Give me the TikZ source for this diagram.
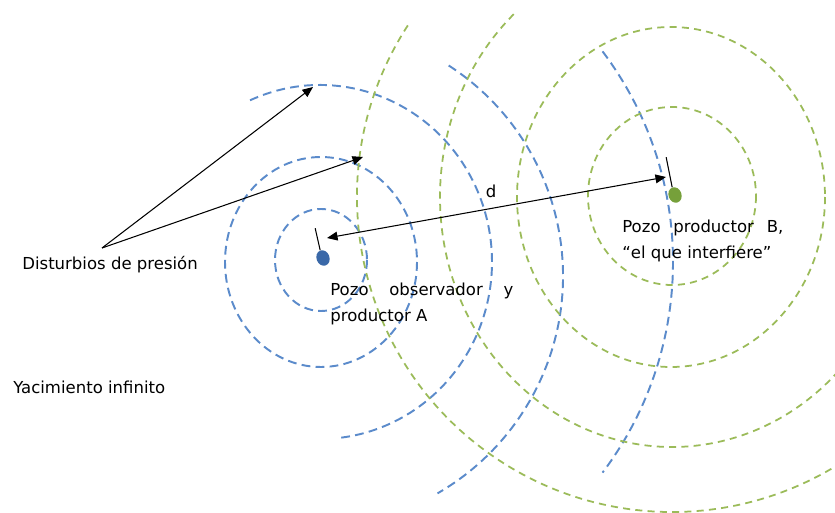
\documentclass[tikz,border=0pt]{standalone}
\usepackage{fontspec}
\setmainfont{DejaVu Sans}
\usepackage{xcolor}
\usepackage{tikz}
\usetikzlibrary{arrows.meta,positioning,shapes.geometric}

\definecolor{ringblue}{HTML}{5B8BCB}
\definecolor{ringgreen}{HTML}{9BBB59}
\definecolor{wellblue}{HTML}{3A68A8}
\definecolor{wellgreen}{HTML}{76A03A}

\tikzset{
    bluering/.style={ringblue, line width=1.1pt, dash pattern=on 5pt off 3pt},
    greenring/.style={ringgreen, line width=1pt, dash pattern=on 4pt off 3pt},
    pointer/.style={line width=0.6pt, -{Triangle[length=6pt,width=5pt]}},
    span/.style={line width=0.6pt, {Triangle[length=6pt,width=5pt]}-{Triangle[length=6pt,width=5pt]}},
    well/.style={ellipse, inner sep=0pt, minimum width=7.4pt, minimum height=9pt, rotate=20},
    lbl/.style={font=\fontsize{9.4}{14.5}\selectfont, inner sep=0pt}
}

\begin{document}
\begin{tikzpicture}[x=0.02cm, y=-0.02cm]
    \clip (0,0) rectangle (835,513);
    \fill [white] (0,0) rectangle (835,513);

    % Rings around A
    \draw [bluering] (321,260) ellipse [x radius=46, y radius=51];
    \draw [bluering] (321,262) ellipse [x radius=96, y radius=105];
    \draw [bluering] (320,262) ++(-114:172 and 177) arc [start angle=-114, end angle=84, x radius=172, y radius=177];
    \draw [bluering] (312,276) ++(-57:251) arc [start angle=-57, end angle=60, radius=251];
    \draw [bluering] (323,262) ++(-37:350) arc [start angle=-37, end angle=37, radius=350];

    % Rings around B
    \draw [greenring] (672,196) ellipse [x radius=84, y radius=89];
    \draw [greenring] (671,197) ellipse [x radius=154, y radius=170];
    \draw [greenring] (672,197) ++(227:232 and 250) arc [start angle=227, end angle=30, x radius=232, y radius=250];
    \draw [greenring] (672,197) ++(213:315) arc [start angle=213, end angle=40, radius=315];

    % Wells
    \node [well, fill=wellblue] (wellA) at (323,258) {};
    \node [well, fill=wellgreen] (wellB) at (675,195) {};
    \draw [line width=0.6pt] (wellA.north) -- ++(-5,-22);
    \draw [line width=0.6pt] (wellB.north) -- ++(-6,-30);

    % Distance
    \coordinate (dA) at (327,238);
    \coordinate (dB) at (666,177);
    \draw [span] (dA) -- (dB);
    \node [lbl] (dlab) at (491,191) {d};

    % Disturbances
    \node [lbl, anchor=base west] (dist) at (22,270) {Disturbios de presión};
    \coordinate (src) at (102,248);
    \coordinate (hit1) at (313,87);
    \coordinate (hit2) at (363,157);
    \draw [pointer] (src) -- (hit1);
    \draw [pointer] (src) -- (hit2);

    % Labels
    \node [lbl, anchor=north west, align=left] (labA) at (330,283) {\makebox[3.66cm][s]{Pozo observador y}\\productor A};
    \node [lbl, anchor=north west, align=left] (labB) at (622,220) {\makebox[3.22cm][s]{Pozo productor B,}\\“el que interfiere”};
    \node [lbl, anchor=base west] (yac) at (13,393) {Yacimiento infinito};
\end{tikzpicture}
\end{document}
